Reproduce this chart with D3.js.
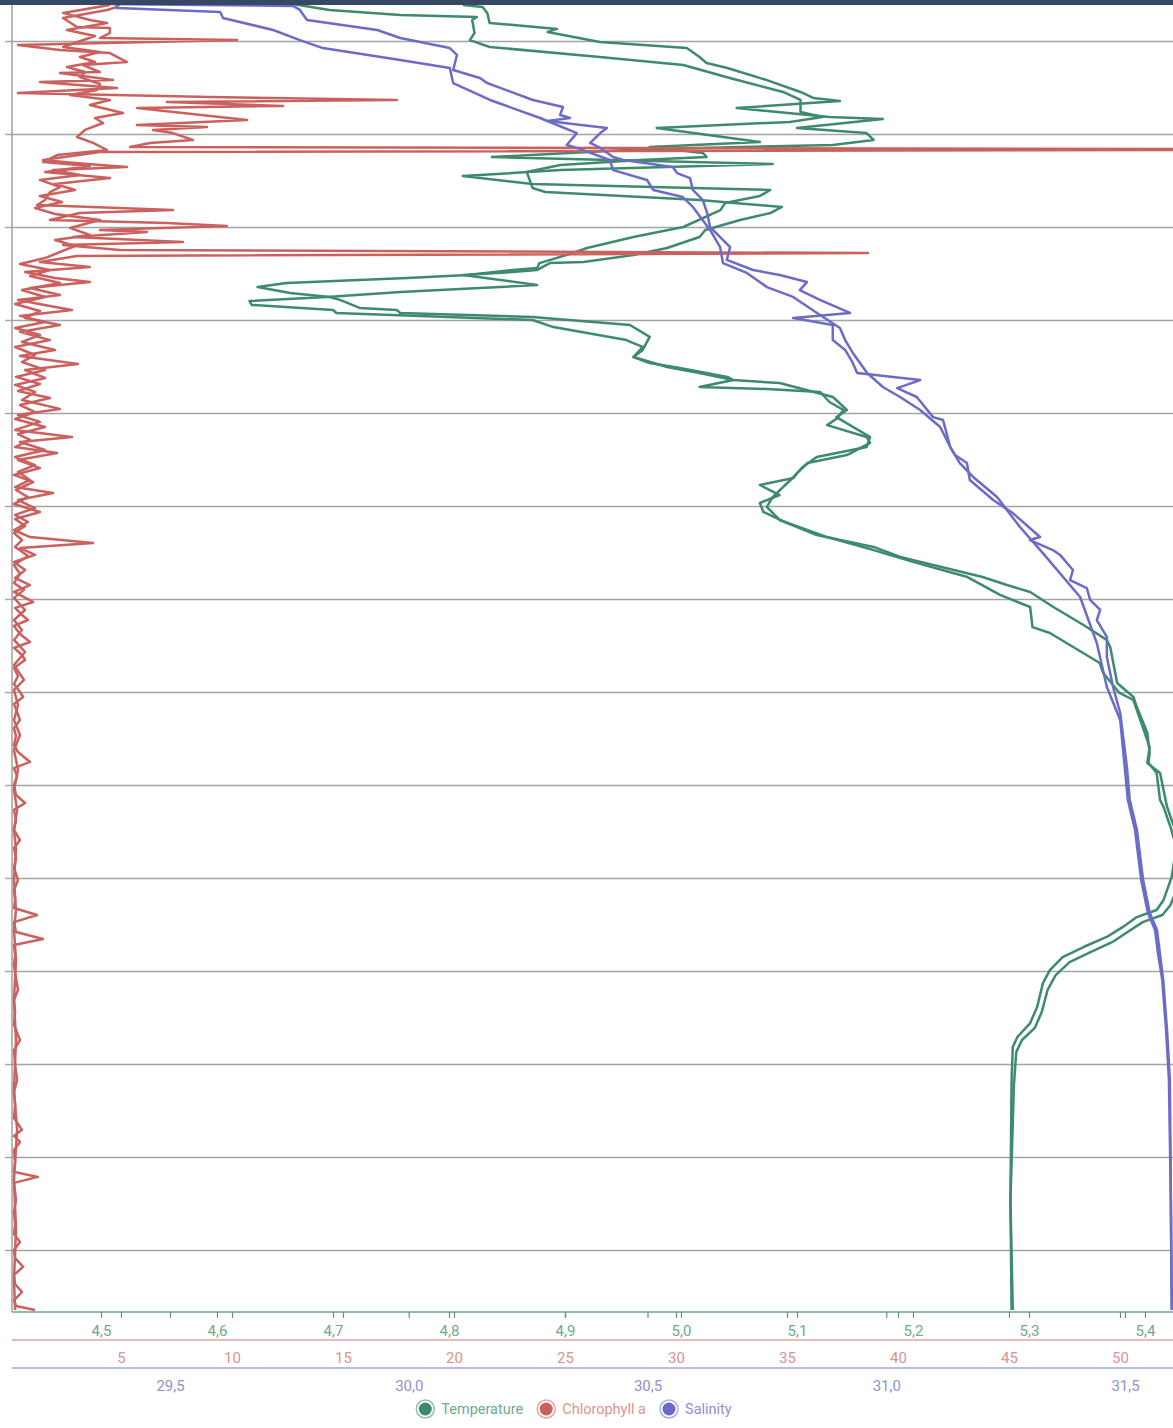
<!DOCTYPE html>
<html>
<head>
<meta charset="utf-8">
<script src="https://cdn.jsdelivr.net/npm/d3@7"></script>
<style>
  html, body { margin: 0; padding: 0; background: #fff; }
  svg { display: block; }
  text { font-family: Roboto, "Liberation Sans", Arial, sans-serif; font-weight: 400; }
</style>
</head>
<body>
<div id="chart"></div>
<script>
// CTD profile, [depth m, value] – down and up cast for each sensor
const temperatureDown = [[3.06,4.812],[3.17,4.829],[3.49,4.833],[4.03,4.835],[4.30,4.884],[4.35,4.893],[4.52,4.885],[5.05,4.930],[5.38,5.005],[5.86,5.016],[6.18,5.022],[6.45,5.040],[7.10,5.074],[7.74,5.103],[8.06,5.114],[8.23,5.137],[8.60,5.048],[9.09,5.128],[9.19,5.174],[9.68,5.100],[9.95,5.160],[10.32,5.166],[10.59,5.131],[10.75,5.016],[10.86,4.953],[11.24,4.837],[11.61,5.079],[11.94,4.896],[12.26,4.812],[12.69,4.872],[13.01,5.077],[13.33,5.068],[13.71,5.038],[14.09,5.034],[15.00,5.002],[15.54,4.959],[16.13,4.919],[16.40,4.907],[16.94,4.878],[17.20,4.876],[17.31,4.855],[17.58,4.816],[17.74,4.764],[18.01,4.660],[18.23,4.635],[18.55,4.663],[18.76,4.697],[18.92,4.706],[19.35,4.723],[19.46,4.755],[19.62,4.758],[19.84,4.872],[20.27,4.956],[20.91,4.973],[21.61,4.967],[21.99,4.959],[22.53,4.988],[22.85,5.016],[23.23,5.045],[23.39,5.085],[24.14,5.131],[24.84,5.143],[25.22,5.134],[26.29,5.163],[26.83,5.160],[27.37,5.117],[27.90,5.105],[28.44,5.097],[29.52,5.079],[30.05,5.074],[30.75,5.085],[31.67,5.126],[32.37,5.166],[33.06,5.203],[33.82,5.247],[34.78,5.275],[35.43,5.301],[36.51,5.303],[36.83,5.318],[38.44,5.361],[38.98,5.364],[40.05,5.378],[40.43,5.390],[41.88,5.398],[42.96,5.404],[43.82,5.402],[44.35,5.413],[46.18,5.419],[47.42,5.426],[49.03,5.430],[50.65,5.427],[51.45,5.422],[51.99,5.415],[52.37,5.398],[52.90,5.385],[53.44,5.372],[53.98,5.353],[54.52,5.335],[55.22,5.323],[56.02,5.316],[57.20,5.311],[58.06,5.305],[58.71,5.294],[59.36,5.289],[61.13,5.287],[67.31,5.284],[73.23,5.286]];

const temperatureUp = [[3.01,4.665],[3.33,4.697],[3.60,4.758],[3.71,4.824],[3.87,4.820],[4.57,4.822],[4.95,4.818],[5.32,4.835],[5.86,4.930],[6.29,5.002],[6.99,5.042],[7.74,5.088],[8.17,5.103],[8.82,5.103],[9.09,5.122],[9.35,5.094],[9.68,4.979],[10.43,5.068],[10.70,4.973],[11.02,5.019],[11.24,5.022],[11.40,4.965],[11.67,4.896],[12.04,4.867],[12.90,4.872],[13.12,4.883],[13.55,5.016],[13.92,5.087],[14.25,5.077],[14.62,5.051],[15.16,5.021],[15.54,5.016],[16.13,4.988],[16.51,4.959],[16.88,4.916],[16.94,4.887],[17.31,4.876],[17.42,4.855],[17.58,4.812],[18.12,4.876],[18.49,4.758],[18.76,4.695],[18.98,4.628],[19.19,4.630],[19.46,4.700],[19.62,4.703],[20.00,4.872],[20.38,4.890],[21.08,4.953],[21.24,4.959],[21.45,4.967],[21.99,4.959],[22.31,4.973],[22.58,4.999],[23.06,5.040],[23.23,5.045],[23.60,5.016],[23.71,5.074],[23.87,5.120],[24.41,5.128],[24.84,5.140],[25.27,5.135],[25.65,5.126],[26.29,5.160],[26.61,5.163],[27.26,5.143],[27.69,5.109],[28.23,5.100],[28.49,5.097],[28.87,5.068],[29.41,5.085],[29.84,5.068],[30.32,5.071],[30.91,5.091],[31.56,5.117],[32.20,5.166],[32.74,5.189],[33.82,5.260],[34.25,5.281],[34.62,5.301],[35.43,5.321],[36.40,5.347],[37.20,5.367],[37.58,5.370],[39.52,5.376],[40.27,5.390],[40.81,5.393],[42.20,5.402],[43.28,5.404],[43.82,5.403],[44.35,5.410],[45.81,5.413],[46.18,5.416],[47.26,5.422],[48.33,5.427],[49.95,5.423],[51.18,5.416],[51.72,5.410],[52.10,5.393],[52.63,5.381],[53.17,5.367],[53.71,5.347],[54.25,5.329],[54.95,5.318],[55.65,5.312],[56.94,5.307],[57.80,5.301],[58.55,5.290],[59.09,5.286],[60.86,5.285],[67.31,5.284],[73.23,5.285]];

const chlorophyllDown = [[3.01,4.95],[3.17,4.82],[3.33,4.37],[3.76,2.39],[4.25,3.02],[4.30,4.50],[4.57,4.50],[4.84,4.05],[4.95,10.23],[5.22,0.36],[5.48,2.25],[5.65,4.50],[6.13,5.27],[6.29,3.29],[6.67,4.05],[6.72,2.25],[7.10,4.64],[7.20,1.35],[7.53,4.82],[7.80,0.36],[8.01,9.01],[8.17,17.43],[8.28,7.07],[8.49,12.30],[8.60,5.72],[9.25,10.68],[9.52,5.72],[9.62,8.87],[9.78,6.44],[9.95,7.34],[10.32,8.24],[10.48,6.31],[10.70,5.41],[10.83,62.6],[10.97,4.05],[11.40,1.49],[11.56,2.93],[11.77,5.27],[11.94,1.94],[12.20,3.15],[12.47,1.35],[12.85,2.25],[13.12,1.80],[13.55,1.58],[13.82,1.22],[14.09,7.34],[14.25,3.15],[14.62,1.80],[14.78,7.07],[14.95,9.77],[15.16,4.05],[15.27,6.17],[15.54,2.84],[15.81,7.79],[15.97,2.39],[16.24,4.95],[16.40,38.65],[16.56,3.02],[16.88,1.35],[17.15,3.60],[17.42,0.68],[17.74,2.03],[17.96,3.60],[18.28,0.90],[18.66,2.25],[18.92,0.36],[19.25,1.80],[19.46,2.79],[19.78,0.45],[20.11,1.58],[20.43,0.23],[20.81,1.35],[21.18,0.54],[21.61,2.03],[21.93,0.45],[22.36,3.06],[22.69,0.68],[23.12,1.58],[23.49,0.23],[23.87,1.13],[24.30,0.54],[24.78,2.25],[25.11,0.36],[25.48,1.35],[25.91,0.23],[26.29,2.79],[26.56,0.45],[26.99,1.58],[27.37,0.23],[27.80,1.13],[28.17,0.36],[28.60,0.90],[28.98,0.23],[29.30,1.94],[29.68,0.36],[30.11,1.13],[30.48,0.23],[30.86,0.81],[31.29,0.18],[31.67,0.90],[31.99,3.74],[32.26,0.45],[32.63,1.13],[33.01,0.18],[33.44,0.68],[33.87,0.23],[34.25,0.90],[34.62,0.18],[35.16,1.04],[35.48,0.23],[35.86,0.54],[36.13,0.81],[36.45,0.18],[36.88,0.45],[37.31,0.90],[37.63,0.18],[38.01,0.54],[38.28,0.68],[38.71,0.18],[39.14,0.36],[39.57,0.18],[40.00,0.45],[40.27,0.59],[40.65,0.18],[41.08,0.32],[41.51,0.45],[41.94,0.18],[42.37,0.27],[42.85,0.18],[43.23,0.36],[43.76,0.90],[44.09,0.18],[44.52,0.32],[45.00,0.18],[45.54,0.27],[45.97,0.68],[46.34,0.18],[46.88,0.27],[47.42,0.18],[47.96,0.45],[48.39,0.18],[48.92,0.27],[49.46,0.18],[50.11,0.36],[50.65,0.18],[51.18,0.23],[51.61,0.18],[51.99,1.22],[52.37,0.18],[52.90,0.27],[53.28,1.49],[53.60,0.18],[54.14,0.23],[54.68,0.18],[55.38,0.27],[56.02,0.36],[56.56,0.18],[57.20,0.23],[57.90,0.18],[58.71,0.45],[59.25,0.18],[60.05,0.23],[60.86,0.32],[61.50,0.18],[62.20,0.23],[62.90,0.18],[63.54,0.54],[63.87,0.18],[64.19,0.45],[64.62,0.18],[65.27,0.23],[65.80,0.18],[66.07,1.26],[66.39,0.18],[66.88,0.23],[67.31,0.27],[67.95,0.18],[68.65,0.23],[69.14,0.18],[69.57,0.45],[70.00,0.18],[70.43,0.23],[70.91,0.59],[71.34,0.18],[71.83,0.23],[72.26,0.54],[72.69,0.18],[73.01,0.27],[73.23,1.13]];

const chlorophyllUp = [[3.06,4.50],[3.49,2.39],[3.87,3.60],[4.03,4.37],[4.41,2.57],[4.73,3.83],[5.32,2.39],[5.59,4.05],[5.86,3.15],[6.13,3.83],[6.40,2.57],[6.67,3.38],[6.94,3.15],[7.31,4.05],[7.63,3.92],[7.90,2.70],[8.17,4.50],[8.44,3.60],[8.87,5.09],[9.14,3.83],[9.41,4.19],[9.78,3.38],[10.16,3.02],[10.48,3.74],[10.86,4.37],[11.13,2.12],[11.51,1.49],[11.72,3.60],[12.04,1.58],[12.37,4.50],[12.69,2.03],[13.01,2.93],[13.33,1.35],[13.66,2.34],[13.98,1.13],[14.30,2.03],[14.62,4.05],[15.05,2.70],[15.43,3.60],[15.70,2.03],[16.02,2.93],[16.67,1.58],[16.99,0.45],[17.31,1.80],[17.63,0.90],[18.01,2.25],[18.39,0.54],[18.76,1.58],[19.14,0.23],[19.52,1.35],[19.89,0.68],[20.27,2.25],[20.64,0.45],[21.08,1.80],[21.45,0.23],[21.88,1.13],[22.26,0.54],[22.69,1.58],[23.06,0.27],[23.44,1.35],[23.82,0.36],[24.19,1.80],[24.57,0.45],[24.95,1.13],[25.32,0.23],[25.75,1.58],[26.13,0.36],[26.45,0.90],[26.83,0.23],[27.15,2.12],[27.53,0.36],[27.96,1.35],[28.33,0.18],[28.71,1.04],[29.14,0.27],[29.52,0.81],[29.89,0.18],[30.32,1.35],[30.70,0.23],[31.07,0.68],[31.45,0.18],[31.83,0.54],[32.20,0.23],[32.69,0.81],[33.17,0.18],[33.65,0.45],[34.14,0.18],[34.51,0.63],[34.94,0.18],[35.59,0.68],[36.13,0.18],[36.67,0.54],[37.20,0.18],[37.85,0.68],[38.55,0.18],[39.35,0.63],[39.89,0.18],[40.70,0.36],[41.51,0.18],[42.31,0.45],[43.12,0.18],[44.19,0.36],[45.27,0.18],[46.34,0.32],[47.42,0.18],[48.49,0.27],[50.11,0.18],[51.72,0.27],[52.80,0.18],[54.41,0.27],[56.56,0.18],[58.71,0.27],[61.40,0.18],[63.54,0.32],[66.23,0.18],[68.92,0.27],[71.61,0.18],[73.23,0.23]];

const salinityDown = [[3.01,29.374],[3.06,29.563],[3.12,29.758],[3.33,29.772],[3.87,29.787],[4.41,29.934],[4.84,29.982],[4.95,30.003],[5.38,30.086],[5.75,30.101],[6.56,30.093],[6.99,30.149],[7.26,30.164],[8.17,30.260],[8.55,30.323],[8.98,30.317],[9.14,30.338],[9.30,30.290],[9.68,30.415],[9.95,30.401],[10.48,30.380],[10.75,30.401],[11.24,30.428],[11.40,30.449],[11.77,30.553],[12.10,30.562],[12.37,30.589],[13.01,30.595],[13.55,30.616],[14.25,30.625],[15.00,30.631],[16.08,30.673],[16.77,30.666],[17.31,30.721],[17.58,30.777],[17.96,30.834],[18.39,30.819],[18.92,30.861],[19.62,30.924],[19.89,30.805],[20.27,30.888],[21.08,30.888],[21.61,30.914],[22.31,30.930],[22.85,30.939],[23.23,31.071],[23.66,31.023],[24.14,31.064],[25.22,31.098],[25.38,31.119],[26.83,31.134],[27.26,31.144],[27.69,31.169],[28.60,31.175],[29.68,31.224],[30.38,31.265],[31.67,31.322],[31.83,31.301],[32.37,31.349],[32.63,31.364],[33.44,31.391],[33.98,31.385],[34.41,31.420],[35.05,31.427],[35.59,31.448],[36.13,31.441],[37.04,31.462],[38.12,31.462],[39.73,31.475],[41.13,31.490],[44.03,31.504],[45.81,31.510],[47.42,31.525],[50.11,31.538],[51.88,31.552],[52.80,31.567],[54.03,31.573],[55.48,31.580],[58.17,31.588],[60.86,31.594],[67.31,31.596],[73.23,31.598]];

const salinityUp = [[3.01,29.389],[3.23,29.389],[3.44,29.605],[3.76,29.611],[4.41,29.716],[4.95,29.772],[5.38,29.820],[6.02,29.982],[6.45,30.086],[7.26,30.093],[8.17,30.170],[9.14,30.275],[9.95,30.352],[10.59,30.331],[10.75,30.352],[11.40,30.421],[11.94,30.428],[12.47,30.499],[13.01,30.512],[13.39,30.574],[13.92,30.595],[15.16,30.631],[16.08,30.652],[16.94,30.658],[17.47,30.708],[18.23,30.750],[18.76,30.805],[19.62,30.855],[20.43,30.903],[21.08,30.914],[21.77,30.930],[22.85,30.960],[23.60,30.993],[24.14,31.029],[24.84,31.071],[25.75,31.113],[26.83,31.134],[27.69,31.154],[28.44,31.182],[29.52,31.232],[31.13,31.280],[32.53,31.328],[34.89,31.406],[37.37,31.441],[39.73,31.462],[41.51,31.490],[45.81,31.506],[47.42,31.521],[50.11,31.534],[51.88,31.548],[52.80,31.563],[54.03,31.569],[55.48,31.578],[58.17,31.586],[60.86,31.592],[67.31,31.596],[73.23,31.598]];

const depthTicks = [5, 10, 15, 20, 25, 30, 35, 40, 45, 50, 55, 60, 65, 70];
const temperatureTicks = [4.5, 4.6, 4.7, 4.8, 4.9, 5.0, 5.1, 5.2, 5.3, 5.4];
const chlorophyllTicks = [5, 10, 15, 20, 25, 30, 35, 40, 45, 50];
const salinityTicks = [29.5, 30.0, 30.5, 31.0, 31.5];
const legendNames = ["Temperature", "Chlorophyll a", "Salinity"];

const width = 1173, height = 1428;
const plotLeft = 12, plotRight = 1173, plotTop = 5, plotBottom = 1312;

const green = "#3d8b6c", red = "#cb615f", blue = "#6c6cc8";
const greenText = "#6fa98e", redText = "#dd9391", blueText = "#9090d2";

const comma = f => (v => f(v).replace(".", ","));

const svg = d3.select("#chart").append("svg")
  .attr("width", width)
  .attr("height", height);

svg.append("rect").attr("width", width).attr("height", height).attr("fill", "#fff");

const y = d3.scaleLinear().domain([5, 70]).range([41, 1250]);
const xTemp = d3.scaleLinear().domain([4.5, 5.4]).range([101, 1145]);
const xChl = d3.scaleLinear().domain([5, 50]).range([121, 1120]);
const xSal = d3.scaleLinear().domain([29.5, 31.5]).range([170, 1125]);

// grid + depth ticks
const grid = svg.append("g").attr("transform", `translate(${plotLeft},0)`)
  .call(d3.axisLeft(y).tickValues(depthTicks).tickSize(-(plotRight - plotLeft)).tickFormat(""));
grid.select(".domain").remove();
grid.selectAll("line").attr("stroke", "#a4a4a4").attr("stroke-width", 1.4);

const stubs = svg.append("g").attr("transform", `translate(${plotLeft},0)`)
  .call(d3.axisLeft(y).tickValues(depthTicks).tickSize(7).tickFormat(""));
stubs.select(".domain").remove();
stubs.selectAll("line").attr("stroke", "#a4a4a4").attr("stroke-width", 1.4);

svg.append("line")
  .attr("x1", plotLeft).attr("x2", plotLeft).attr("y1", plotTop).attr("y2", plotBottom)
  .attr("stroke", "#a0a0a0").attr("stroke-width", 1.5);

// series
svg.append("clipPath").attr("id", "plot")
  .append("rect").attr("x", plotLeft).attr("y", plotTop)
  .attr("width", plotRight - plotLeft).attr("height", plotBottom - plotTop);

const plot = svg.append("g").attr("clip-path", "url(#plot)");

function drawCast(data, xScale, color) {
  const line = d3.line()
    .x(d => xScale(d[1]))
    .y(d => y(d[0]));
  plot.append("path")
    .datum(data)
    .attr("fill", "none")
    .attr("stroke", color)
    .attr("stroke-width", 2.5)
    .attr("stroke-linejoin", "round")
    .attr("d", line);
}

drawCast(temperatureDown, xTemp, green);
drawCast(temperatureUp, xTemp, green);
drawCast(chlorophyllDown, xChl, red);
drawCast(chlorophyllUp, xChl, red);
drawCast(salinityDown, xSal, blue);
drawCast(salinityUp, xSal, blue);

// bottom axes
function axisLine(yPos, color) {
  svg.append("line")
    .attr("x1", plotLeft).attr("x2", plotRight).attr("y1", yPos).attr("y2", yPos)
    .attr("stroke", color).attr("stroke-width", 1.5);
}

function tickMarks(scale, values) {
  const g = svg.append("g").attr("transform", `translate(0,${plotBottom})`)
    .call(d3.axisBottom(scale).tickValues(values).tickSize(6).tickFormat(""));
  g.select(".domain").remove();
  g.selectAll("line").attr("stroke", "#5f8f7a").attr("stroke-width", 1.2);
}

function tickLabels(yPos, scale, values, fmt, color) {
  const g = svg.append("g").attr("transform", `translate(0,${yPos})`)
    .call(d3.axisBottom(scale).tickValues(values).tickSize(0).tickPadding(12).tickFormat(fmt));
  g.select(".domain").remove();
  g.selectAll("text")
    .attr("fill", color)
    .style("font-size", "15px")
    .style("font-family", "Roboto, 'Liberation Sans', Arial, sans-serif")
    .style("font-weight", 400);
}

axisLine(plotBottom, "#6aa88a");
tickMarks(xTemp, temperatureTicks);
tickMarks(xChl, chlorophyllTicks);
tickMarks(xSal, salinityTicks);
tickLabels(plotBottom + 1, xTemp, temperatureTicks, comma(d3.format(".1f")), greenText);

axisLine(1340, "#e3a3a1");
tickLabels(1340, xChl, chlorophyllTicks, d3.format("d"), redText);

axisLine(1368, "#a3a3e3");
tickLabels(1368, xSal, salinityTicks, comma(d3.format(".1f")), blueText);

// legend
const legendColors = [green, red, blue];
const legendTextColors = [greenText, redText, blueText];
const legend = svg.append("g").attr("transform", "translate(0,1409)");
let cx = 0;
legendNames.forEach((name, i) => {
  const g = legend.append("g");
  g.append("circle").attr("r", 9).attr("fill", "none")
    .attr("stroke", legendColors[i]).attr("stroke-opacity", 0.55).attr("stroke-width", 1.5);
  g.append("circle").attr("r", 6.5).attr("fill", legendColors[i]);
  const t = g.append("text").attr("x", 16).attr("dy", "0.35em")
    .attr("fill", legendTextColors[i]).style("font-size", "14.5px").style("font-weight", 400)
    .text(name);
  const w = 16 + t.node().getComputedTextLength();
  g.attr("transform", `translate(${cx + 9},0)`);
  cx += w + 9 + 14;
});
const total = cx - 14;
legend.attr("transform", `translate(${574 - total / 2},1409)`);

// app header strip
svg.append("rect").attr("x", 0).attr("y", 0).attr("width", width).attr("height", plotTop)
  .attr("fill", "#364863");
</script>
</body>
</html>
